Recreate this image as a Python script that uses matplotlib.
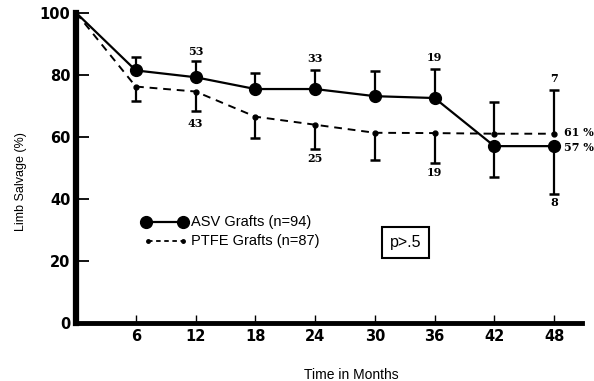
import matplotlib
matplotlib.use("Agg")
import matplotlib.pyplot as plt
import numpy as np

months = [0, 6, 12, 18, 24, 30, 36, 42, 48]
asv = [100, 81.4, 79.2, 75.4, 75.4, 73.1, 72.5, 57.0, 57.0]
ptfe = [100, 76.2, 74.6, 66.5, 63.9, 61.3, 61.2, 61.0, 61.0]
# error bar ends (drawn one-sided from each point)
asv_bar_end = [np.nan, 85.7, 84.3, 80.7, 81.6, 81.3, 81.9, 47.2, 41.5]
ptfe_bar_end = [np.nan, 71.7, 68.4, 59.6, 56.0, 52.6, 51.5, 71.3, 75.2]

n_months = [12, 24, 36, 48]
asv_n = ["53", "33", "19", "7"]
ptfe_n = ["43", "25", "19", "8"]
asv_n_y = [87.4, 85.2, 85.5, 78.7]
ptfe_n_y = [64.2, 53.0, 48.4, 38.7]

final_labels = ["61 %", "57 %"]
final_vals = [61.3, 56.4]

xticks = [6, 12, 18, 24, 30, 36, 42, 48]
yticks = [0, 20, 40, 60, 80, 100]

fig = plt.figure(figsize=(5.94, 3.81), dpi=100)
ax = fig.add_axes([76/594, 1-323/381, (582-76)/594, (323-12.7)/381])
ax.set_xlim(0, 50.8)
ax.set_ylim(0, 100)

# error bars
def bars(xs, ys, ends):
    for x, y, e in zip(xs, ys, ends):
        if np.isnan(e):
            continue
        ax.vlines(x, y, e, color="black", lw=1.6, clip_on=False, zorder=2)
        ax.plot([x], [e], marker="_", ms=7, mew=1.8, color="black", clip_on=False, zorder=2)

bars(months, asv, asv_bar_end)
bars(months, ptfe, ptfe_bar_end)

ax.plot(months, ptfe, ls=(0, (4, 3)), lw=1.4, color="black", marker="o", ms=3.5,
        markevery=list(range(1, len(months))), clip_on=False, zorder=3,
        label="PTFE Grafts (n=87)")
ax.plot(months, asv, ls="-", lw=1.6, color="black", marker="o", ms=8.5,
        markevery=list(range(1, len(months))), clip_on=False, zorder=4,
        label="ASV Grafts (n=94)")

for x, t, yv in zip(n_months, asv_n, asv_n_y):
    ax.text(x, yv, t, ha="center", va="center", fontsize=8, fontweight="bold",
            family="DejaVu Serif")
for x, t, yv in zip(n_months, ptfe_n, ptfe_n_y):
    ax.text(x, yv, t, ha="center", va="center", fontsize=8, fontweight="bold",
            family="DejaVu Serif")
for t, yv in zip(final_labels, final_vals):
    ax.text(49.0, yv, t, ha="left", va="center", fontsize=8, fontweight="bold",
            family="DejaVu Serif", clip_on=False)

# legend (manual, two rows)
ax.plot([7.0, 10.7], [32.6, 32.6], ls="-", lw=1.6, color="black", marker="o", ms=8.5)
ax.plot([7.2, 10.7], [26.5, 26.5], ls=(0, (2.5, 2)), lw=1.3, color="black", marker="o", ms=2.5)
ax.text(11.5, 32.6, "ASV Grafts (n=94)", ha="left", va="center", fontsize=10.5, family="Liberation Sans")
ax.text(11.5, 26.5, "PTFE Grafts (n=87)", ha="left", va="center", fontsize=10.5, family="Liberation Sans")

ax.text(33.1, 26.0, "p>.5", ha="center", va="center", fontsize=11.5, family="Liberation Sans",
        bbox=dict(boxstyle="square,pad=0.5", fc="white", ec="black", lw=1.5))

for s in ["top", "right"]:
    ax.spines[s].set_visible(False)
ax.spines["left"].set_linewidth(4.5)
ax.spines["bottom"].set_linewidth(3.5)

ax.set_xticks(xticks)
ax.set_xticklabels([str(t) for t in xticks])
ax.set_yticks(yticks)
ax.set_yticklabels([str(t) for t in yticks])
ax.tick_params(axis="y", direction="in", length=9, width=1.3, pad=4)
ax.tick_params(axis="x", direction="in", length=6, width=1.0, pad=4)
for lab in ax.get_xticklabels() + ax.get_yticklabels():
    lab.set_fontweight("bold")
    lab.set_fontsize(10.5)
    lab.set_family("DejaVu Sans")

fig.text(351/594, 1-375/381, "Time in Months", ha="center", va="center", fontsize=10,
         family="Liberation Sans")
fig.text(21/594, 1-182/381, "Limb Salvage (%)", ha="center", va="center", rotation=90,
         fontsize=9, family="Liberation Sans")

fig.savefig("out.png", dpi=100)
